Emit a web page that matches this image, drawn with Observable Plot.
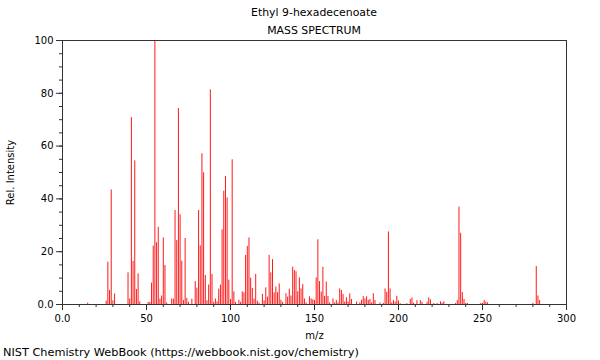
<!DOCTYPE html>
<html>
<head>
<meta charset="utf-8">
<script src="https://cdn.jsdelivr.net/npm/d3@7"></script>
<script src="https://cdn.jsdelivr.net/npm/@observablehq/plot@0.6"></script>
<style>
  body { margin: 0; background: #fff; font-family: "DejaVu Sans", sans-serif; color: #000; }
  #head { width: 572px; padding-left: 28px; height: 34px; overflow: visible; text-align: center; font-size: 10.9px; }
  #head div { line-height: 18px; }
  #head .t1 { padding-top: 4px; }
  #cap { font-size: 11.3px; line-height: 16px; padding-left: 3px; white-space: nowrap; }
</style>
</head>
<body>
<div id="head"><div class="t1">Ethyl 9-hexadecenoate</div><div>MASS SPECTRUM</div></div>
<div id="chart"></div>
<div id="cap">NIST Chemistry WebBook (https://webbook.nist.gov/chemistry)</div>
<script>
const mz = [
  15, 26, 27, 28, 29, 30, 31,
  39, 40, 41, 42, 43, 44, 45, 46,
  51, 52, 53, 54, 55, 56, 57, 58, 59, 60, 61, 62,
  65, 66, 67, 68, 69, 70, 71, 72, 73, 74, 75, 77, 79,
  80, 81, 82, 83, 84, 85, 86, 87, 88, 89,
  90, 91, 92, 93, 94, 95, 96, 97, 98, 99,
  100, 101, 102, 103, 105, 106, 107, 108, 109,
  110, 111, 112, 113, 114, 115, 116, 117, 119,
  120, 121, 122, 123, 124, 125, 126, 127, 128, 129,
  130, 131, 133, 134, 135, 136, 137, 138, 139,
  140, 141, 142, 143, 144, 145, 147, 148, 149,
  150, 151, 152, 153, 154, 155, 156, 157, 158, 159,
  161, 162, 163, 164, 165, 166, 167, 168, 169,
  170, 171, 172, 175, 177, 178, 179,
  180, 181, 182, 183, 184, 185, 186, 189,
  191, 192, 193, 194, 195, 196, 197, 198, 199,
  200, 201, 205, 207, 208, 209,
  211, 213, 214, 217, 218, 219,
  221, 223, 225, 226, 227,
  234, 235, 236, 237, 238, 239,
  240, 241, 249,
  250, 251, 252, 253,
  280, 282, 283, 284
];
const intensity = [
  0.5, 1.3, 16.0, 5.3, 43.4, 1.4, 4.0,
  12.0, 2.1, 70.8, 16.3, 54.4, 5.7, 11.6, 1.0,
  0.8, 0.8, 8.1, 22.1, 100, 23.4, 29.2, 2.1, 3.2, 25.2, 14.8, 0.6,
  2.1, 2.0, 35.6, 24.2, 74.2, 34.0, 16.4, 1.5, 25.0, 2.3, 0.8, 2.0, 8.7,
  6.2, 35.6, 22.2, 57.1, 49.9, 11.0, 1.4, 7.4, 81.3, 11.4,
  0.8, 2.1, 1.0, 5.8, 7.4, 28.3, 42.9, 48.5, 40.4, 9.2,
  1.9, 54.8, 4.8, 0.8, 1.6, 0.8, 4.8, 4.4, 18.6,
  22.0, 25.2, 10.0, 6.1, 2.0, 11.4, 1.2, 0.5, 3.8,
  1.4, 6.3, 2.8, 18.6, 12.0, 17.0, 4.4, 6.6, 4.5, 7.8,
  1.6, 0.8, 4.1, 2.8, 5.8, 3.2, 14.1, 12.9, 12.4,
  4.8, 10.1, 5.9, 7.6, 2.1, 0.6, 2.9, 2.1, 1.8,
  1.5, 10.1, 24.5, 8.7, 4.7, 14.1, 3.0, 8.5, 3.0, 0.6,
  2.1, 0.6, 1.5, 0.6, 5.9, 5.3, 3.8, 0.9, 2.5,
  0.9, 4.0, 1.9, 0.9, 0.6, 1.6, 3.0,
  2.1, 2.9, 1.5, 1.9, 0.6, 4.1, 1.5, 0.6,
  0.4, 5.9, 4.6, 27.5, 5.9, 0.6, 1.5, 0.9, 3.1,
  1.3, 0.3, 0.3, 1.9, 2.5, 0.5,
  1.4, 1.5, 0.8, 0.9, 2.5, 1.8,
  0.4, 0.4, 1.0, 0.5, 1.0,
  0.4, 1.5, 36.9, 27.0, 4.5, 1.9,
  0.4, 0.4, 0.4,
  0.4, 1.5, 0.9, 0.6,
  0.4, 14.4, 3.2, 1.5
];
const xMajorTicks = [0, 50, 100, 150, 200, 250, 300];
const xMinorTicks = [0, 10, 20, 30, 40, 50, 60, 70, 80, 90, 100, 110, 120, 130, 140, 150, 160, 170, 180, 190, 200, 210, 220, 230, 240, 250, 260, 270, 280, 290, 300];
const yMajorTicks = [0, 20, 40, 60, 80, 100];
const yMinorTicks = [0, 5, 10, 15, 20, 25, 30, 35, 40, 45, 50, 55, 60, 65, 70, 75, 80, 85, 90, 95, 100];

const data = mz.map((m, i) => ({mz: m, intensity: intensity[i]}));
const fmt = d => d === 0 ? "0.0" : String(d);

const chart = Plot.plot({
  width: 600,
  height: 311,
  marginLeft: 62,
  marginRight: 34,
  marginTop: 6,
  marginBottom: 41,
  style: {fontFamily: "'DejaVu Sans', sans-serif", fontSize: "10px", background: "transparent", overflow: "visible", color: "#000"},
  x: {domain: [0, 300]},
  y: {domain: [0, 100]},
  marks: [
    Plot.ruleX(data, {x: "mz", y1: 0, y2: "intensity", stroke: "#ff1a1a", strokeWidth: 1}),
    Plot.axisX(xMinorTicks, {tickSize: 3, tickFormat: () => "", label: null, stroke: "#333"}),
    Plot.axisY(yMinorTicks, {tickSize: 3, tickFormat: () => "", label: null, stroke: "#333"}),
    Plot.axisX(xMajorTicks, {tickSize: 6, tickPadding: 4, tickFormat: fmt, stroke: "#333", label: "m/z", labelAnchor: "center", labelArrow: "none", labelOffset: 34}),
    Plot.axisY(yMajorTicks, {tickSize: 6, tickPadding: 3, tickFormat: fmt, stroke: "#333", label: "Rel. Intensity", labelAnchor: "center", labelArrow: "none", labelOffset: 56}),
    Plot.frame({stroke: "#333"})
  ]
});
document.getElementById("chart").appendChild(chart);
</script>
</body>
</html>
